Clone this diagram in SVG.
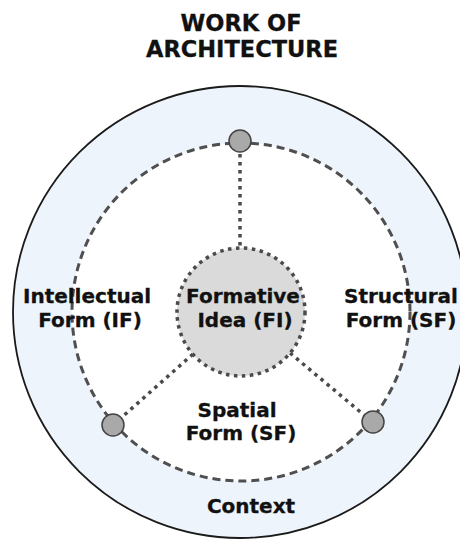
<svg xmlns="http://www.w3.org/2000/svg" width="460" height="540" viewBox="0 0 460 540">
<style>
text{font-family:"DejaVu Sans",Verdana,sans-serif;font-weight:bold;fill:#111;text-anchor:middle;stroke:#111;stroke-width:0.3}
.title{font-size:22.5px}
.lbl{font-size:20px}
.dot{fill:none;stroke:#4a4a4a;stroke-width:3.5;stroke-dasharray:3.5 4.5}
.node{fill:#a9a9a9;stroke:#444;stroke-width:1.5}
</style>
<rect width="460" height="540" fill="#fff"/>
<g id="title">
<text class="title" x="241" y="31">WORK OF</text>
<text class="title" x="242" y="57">ARCHITECTURE</text>
</g>
<g id="context">
<ellipse cx="240" cy="312" rx="227" ry="226" fill="#eef4fb" stroke="#1a1a1a" stroke-width="1.8"/>
<text class="lbl" x="251" y="513">Context</text>
</g>
<g id="forms-ring">
<circle cx="241" cy="312" r="169" fill="#fff" stroke="#4f4f4f" stroke-width="3" stroke-dasharray="8 5"/>
</g>
<g id="connectors">
<line class="dot" x1="240" y1="154" x2="240" y2="247"/>
<line class="dot" x1="193" y1="354" x2="121" y2="418"/>
<line class="dot" x1="290" y1="353" x2="364" y2="415"/>
</g>
<g id="formative-idea">
<circle cx="241" cy="312" r="64" fill="#dadada" stroke="#4a4a4a" stroke-width="3.5" stroke-dasharray="3.5 4.5"/>
<text class="lbl" x="243" y="303">Formative</text>
<text class="lbl" x="245" y="327">Idea (FI)</text>
</g>
<g id="intellectual-form">
<circle class="node" cx="240" cy="141" r="11"/>
<text class="lbl" x="87" y="303">Intellectual</text>
<text class="lbl" x="90" y="327">Form (IF)</text>
</g>
<g id="structural-form">
<circle class="node" cx="373" cy="422" r="11"/>
<text class="lbl" x="401" y="303">Structural</text>
<text class="lbl" x="401" y="327">Form (SF)</text>
</g>
<g id="spatial-form">
<circle class="node" cx="113" cy="425" r="11"/>
<text class="lbl" x="237" y="417">Spatial</text>
<text class="lbl" x="241" y="440">Form (SF)</text>
</g>
</svg>
